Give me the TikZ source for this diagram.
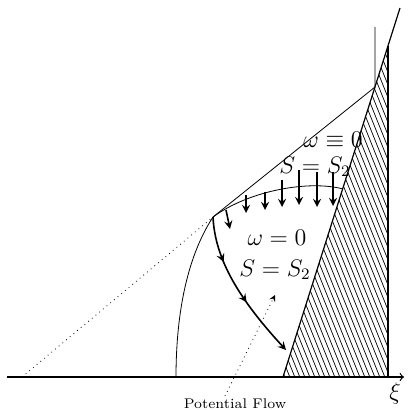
\documentclass[tikz,border=0pt]{standalone}
\usepackage{amsmath}
\usetikzlibrary{arrows,decorations.markings}

\begin{document}
\begin{tikzpicture}[
    x=0.5pt,y=-0.5pt,
    font=\large,
    wall/.style={line width=0.6pt},
    hatch/.style={line width=0.35pt},
    label/.style={inner sep=0pt},
    flow/.style={->,>=stealth,line width=0.8pt},
    stream/.style={line width=0.8pt,>=stealth,
        decoration={markings,
            mark=at position 0.3 with {\arrow{>}},
            mark=at position 0.6 with {\arrow{>}}},
        postaction={decorate}}
]
\useasboundingbox (0,0) rectangle (407,410);

% points
\coordinate (axl) at (7,377);
\coordinate (axr) at (404,377);
\coordinate (apex) at (22,377);
\coordinate (tp) at (213,217);
\coordinate (rp) at (375,87);
\coordinate (top) at (375,27);
\coordinate (w0) at (283,377);
\coordinate (w1) at (400,8);
\coordinate (wc) at (388,46);
\coordinate (wb) at (388,377);
\coordinate (arcend) at (343,189);
\coordinate (sonic) at (176,377);
\coordinate (hit) at (286,350);

% wedge
\begin{scope}
  \clip (w0) -- (wc) -- (wb) -- cycle;
  \foreach \x in {140,145,...,395}
    \draw[hatch] (\x,40) -- ++(136,340);
\end{scope}
\draw[wall] (w0) -- (w1);
\draw[wall] (wc) -- (wb);

% axis
\draw[wall,->] (axl) -- (axr);
\node (xi) at (395,393) {$\xi$};

% shock
\draw[dotted] (apex) -- (tp);
\draw (tp) -- (rp) -- (top);
\draw (tp) .. controls (250,190) and (310,180) .. (arcend);
\draw (tp) .. controls (185,260) and (176,320) .. (sonic);

% arrows across the curved shock
\foreach \xa/\ya/\xb/\yb in {226/210/230/229, 246/195/246/213, 265/192/265/210,
    282/180/282/207, 299/170/299/205, 317/172/317/207, 333/172/333/206}
    \draw[flow] (\xa,\ya) -- (\xb,\yb);

% streamline
\draw[stream,->] (tp) .. controls (215,260) and (240,300) .. (hit);

% labels
\node[label] (om1) at (333,140) {$\omega\equiv 0$};
\node[label] (s1) at (315,167) {$S=S_2$};
\node[label] (om2) at (277,238) {$\omega=0$};
\node[label] (s2) at (275,270) {$S=S_2$};

\node[font=\scriptsize] (pf) at (235,404) {Potential Flow};
\coordinate (pfend) at (275,295);
\draw[dotted,->,>=stealth] ([xshift=-5pt,yshift=-2pt]pf.north) -- (pfend);

\end{tikzpicture}
\end{document}
